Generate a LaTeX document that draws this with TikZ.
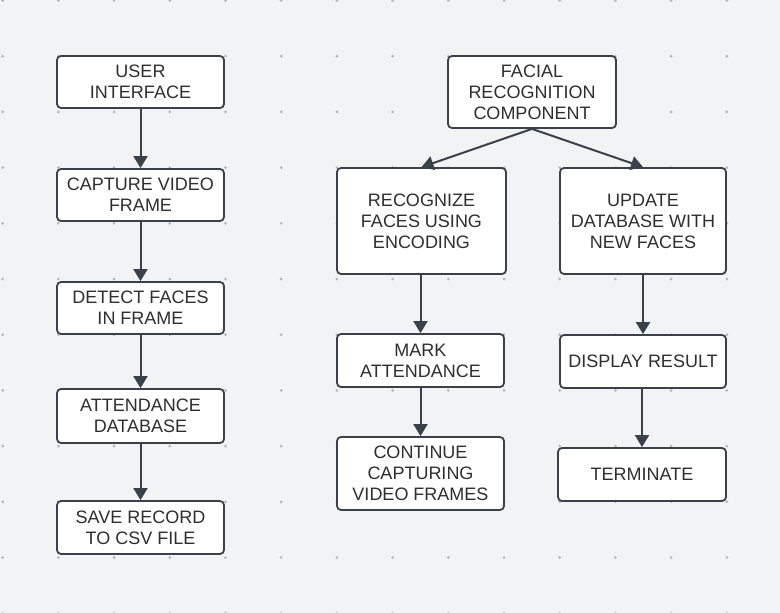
\documentclass[tikz,border=0pt]{standalone}
\usepackage{fontspec}
\setmainfont{Liberation Sans}
\usetikzlibrary{arrows.meta}
\definecolor{bg}{HTML}{F2F3F5}
\definecolor{edge}{HTML}{3B414A}
\definecolor{txt}{HTML}{2E2E2E}
\definecolor{dot}{HTML}{B4B6BA}
\tikzset{
  box/.style={draw=edge, fill=white, line width=1.8pt, rounded corners=4pt,
    inner sep=0pt, align=center, text=txt,
    font=\fontsize{18}{21}\selectfont},
  conn/.style={draw=edge, line width=2pt, -{Triangle[length=12pt,width=14pt]}}
}
\begin{document}
\begin{tikzpicture}[x=1pt,y=-1pt]
\useasboundingbox[fill=bg] (0,0) rectangle (780,613);
\foreach \i in {0,...,14}{
  \foreach \j in {0,...,11}{
    \fill[dot] (2.7+55.7*\i, 0.5+55.7*\j) circle (1.5pt);
  }
}
% left column
\node[box, minimum width=167pt, minimum height=52pt] (ui) at (140.5,82) {USER\\INTERFACE};
\node[box, minimum width=167pt, minimum height=52pt] (cap) at (140.5,195) {CAPTURE VIDEO\\FRAME};
\node[box, minimum width=167pt, minimum height=52pt] (det) at (140.5,308) {DETECT FACES\\IN FRAME};
\node[box, minimum width=167pt, minimum height=54pt] (att) at (140.5,416) {ATTENDANCE\\DATABASE};
\node[box, minimum width=167pt, minimum height=53pt] (save) at (140.5,527.5) {SAVE RECORD\\TO CSV FILE};
% right part
\node[box, minimum width=168pt, minimum height=72pt] (frc) at (532,92) {FACIAL\\RECOGNITION\\COMPONENT};
\node[box, minimum width=169pt, minimum height=106pt] (rec) at (421.5,221) {RECOGNIZE\\FACES USING\\ENCODING};
\node[box, minimum width=166pt, minimum height=106pt] (upd) at (643,221) {UPDATE\\DATABASE WITH\\NEW FACES};
\node[box, minimum width=167pt, minimum height=53pt] (mark) at (420.5,360.5) {MARK\\ATTENDANCE};
\node[box, minimum width=167pt, minimum height=73pt] (cont) at (420.5,473.5) {CONTINUE\\CAPTURING\\VIDEO FRAMES};
\node[box, minimum width=166pt, minimum height=53pt] (disp) at (643,361.5) {DISPLAY RESULT};
\node[box, minimum width=168pt, minimum height=53pt] (term) at (642,474.5) {TERMINATE};
% connectors
\draw[conn] (ui.south) -- (cap.north);
\draw[conn] (cap.south) -- (det.north);
\draw[conn] (det.south) -- (att.north);
\draw[conn] (att.south) -- (save.north);
\draw[conn] (frc.south) -- (rec.north);
\draw[conn] (frc.south) -- (upd.north);
\draw[conn] (mark.north |- rec.south) -- (mark.north);
\draw[conn] (mark.south) -- (cont.north);
\draw[conn] (disp.north |- upd.south) -- (disp.north);
\draw[conn] (term.north |- disp.south) -- (term.north);
\end{tikzpicture}
\end{document}
